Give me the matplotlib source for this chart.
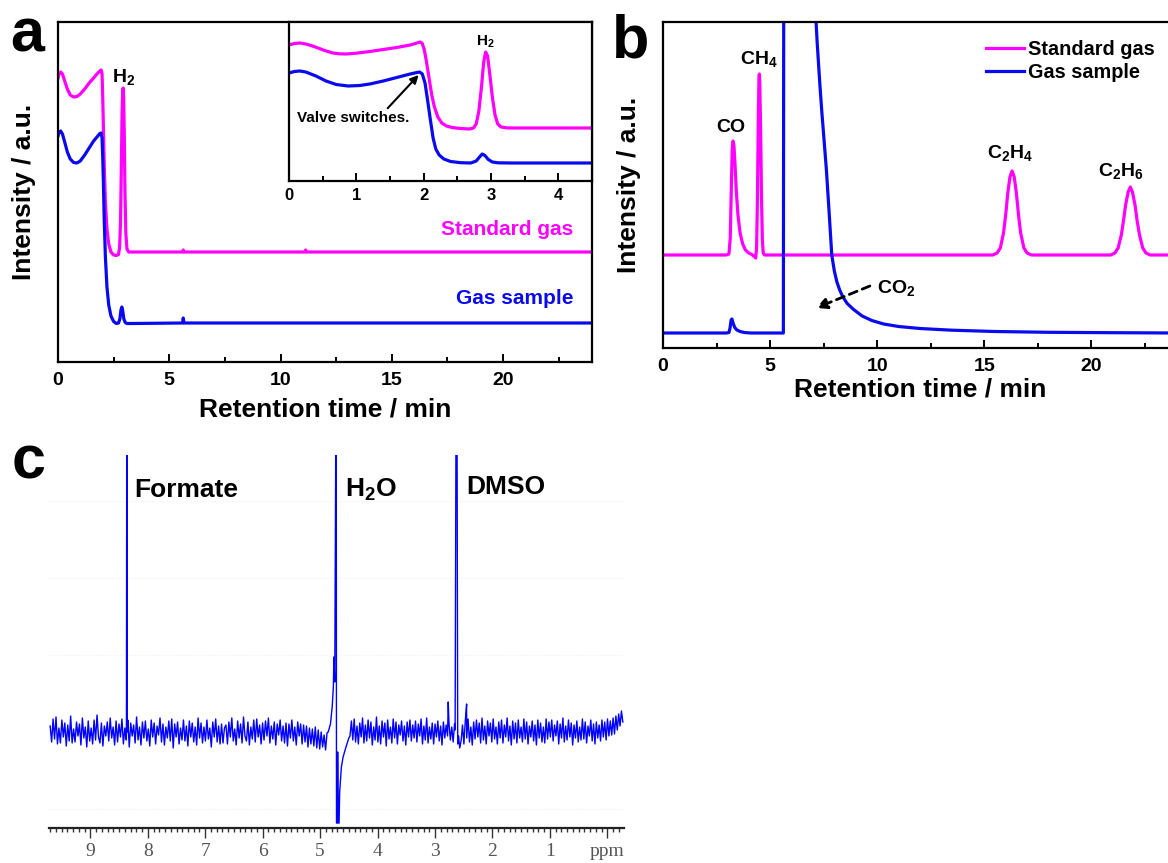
import numpy as np
import matplotlib
matplotlib.use('Agg')
import matplotlib.pyplot as plt
from matplotlib.ticker import MultipleLocator

plt.rcParams['font.family'] = ['Liberation Sans', 'DejaVu Sans']
plt.rcParams['font.weight'] = 'bold'
plt.rcParams['axes.labelweight'] = 'bold'
plt.rcParams['mathtext.fontset'] = 'custom'
plt.rcParams['mathtext.rm'] = 'Liberation Sans:bold'
plt.rcParams['mathtext.default'] = 'rm'

MAG = '#ff00ff'
BLU = '#0a0aee'

# ---- panel a, main (time in min, intensity a.u.)
a_std_t = [0, 0.05, 0.12, 0.2, 0.3, 0.42, 0.55, 0.7, 0.85, 1.0, 1.2, 1.4, 1.6, 1.75, 1.88, 1.94,
           1.98, 2.01, 2.04, 2.08, 2.13, 2.2, 2.28, 2.38, 2.5, 2.62, 2.72, 2.77, 2.81, 2.85, 2.88,
           2.91, 2.93, 2.95, 2.98, 3.01, 3.05, 3.1, 3.18, 3.3, 5.6, 5.63, 5.66, 11.1, 11.13, 11.16, 24]
a_std_y = [284, 288, 290, 288, 281, 273, 267, 265, 265.5, 268, 273, 279, 284, 288, 291, 292,
           288, 265, 235, 195, 160, 133, 118, 110, 107, 106.5, 107.5, 115, 140, 200, 250,
           272, 274, 265, 225, 170, 128, 113, 110, 110, 110, 112, 110, 110, 112, 110, 110]
a_gas_t = [0, 0.05, 0.12, 0.2, 0.3, 0.42, 0.55, 0.7, 0.85, 1.0, 1.2, 1.4, 1.6, 1.75, 1.88, 1.94,
           1.98, 2.01, 2.04, 2.08, 2.13, 2.2, 2.28, 2.38, 2.5, 2.62, 2.72, 2.78, 2.83, 2.87, 2.91,
           2.96, 3.02, 3.1, 3.3, 5.6, 5.63, 5.66, 24]
a_gas_y = [226, 230, 231, 228, 220, 210, 203, 199.5, 199, 201, 207, 214, 221, 225, 228.5, 229,
           224, 205, 180, 140, 105, 75, 57, 46, 40.5, 38.5, 39, 43, 52, 55, 51,
           43, 39.5, 38.5, 38.5, 39, 44, 39, 39]

# ---- panel a, inset
i_std_t = [0, 0.08, 0.16, 0.25, 0.35, 0.45, 0.55, 0.65, 0.75, 0.85, 1.0, 1.2, 1.4, 1.6, 1.8, 1.9,
           1.95, 1.98, 2.01, 2.04, 2.08, 2.12, 2.16, 2.21, 2.27, 2.34, 2.42, 2.55, 2.68, 2.74,
           2.78, 2.82, 2.86, 2.89, 2.92, 2.95, 2.98, 3.02, 3.06, 3.1, 3.15, 3.25, 4.5]
i_std_y = [136, 137.5, 138, 137, 135, 132.5, 130, 128, 127.2, 127, 127.8, 129.5, 131.5, 133.5,
           136, 138, 139, 137.5, 131, 120, 103, 86, 74, 64, 58, 55, 53.5, 52.5, 52, 53,
           57, 70, 95, 118, 129, 125, 108, 84, 66, 57, 54, 53, 53]
i_gas_t = [0, 0.08, 0.16, 0.25, 0.4, 0.55, 0.7, 0.88, 1.05, 1.2, 1.4, 1.6, 1.8, 1.9, 1.94, 1.98,
           2.02, 2.06, 2.1, 2.14, 2.18, 2.23, 2.3, 2.4, 2.55, 2.7, 2.78, 2.83, 2.87, 2.91, 2.96,
           3.02, 3.1, 3.3, 4.5]
i_gas_y = [108, 109.5, 110, 109, 105, 100, 96.5, 95, 95.5, 97, 100, 103.5, 107, 108.5, 109, 107,
           98, 80, 61, 43, 32, 26, 22, 19.5, 18.3, 18, 20, 24, 27, 25.5, 21.5,
           19, 18.2, 18, 18]

# ---- panel b
b_std_t = [0, 2.95, 3.08, 3.14, 3.19, 3.23, 3.27, 3.31, 3.36, 3.42, 3.5, 3.6, 3.72, 3.85, 4.0,
           4.15, 4.28, 4.33, 4.37, 4.41, 4.45, 4.48, 4.5, 4.52, 4.56, 4.6, 4.64, 4.68, 4.74,
           15.4, 15.6, 15.75, 15.9, 16.0, 16.1, 16.2, 16.3, 16.4, 16.5, 16.6, 16.7, 16.85, 17.0,
           17.2, 20.9, 21.1, 21.25, 21.4, 21.5, 21.6, 21.72, 21.82, 21.92, 22.04, 22.14, 22.25,
           22.4, 22.55, 22.75, 24]
b_std_y = [93, 93, 94, 110, 160, 198, 207, 203, 185, 158, 133, 115, 104, 98, 95,
           93.5, 91, 90, 100, 150, 230, 270, 274, 265, 215, 150, 108, 95, 93,
           93, 95, 100, 115, 133, 155, 171, 177, 171, 155, 133, 115, 100, 95,
           93, 93, 95, 100, 113, 127, 143, 156, 161, 156, 143, 127, 113,
           100, 95, 93, 93]
b_gas_t = [0, 2.95, 3.08, 3.13, 3.18, 3.22, 3.27, 3.35, 3.45, 3.6, 3.8, 4.1, 5.62, 5.64, 7.1,
           7.15, 7.2, 7.26, 7.33, 7.42, 7.52, 7.63, 7.75, 7.88, 8.0, 8.12, 8.25, 8.4, 8.6, 8.9,
           9.3, 9.75, 10.3, 11.0, 12.0, 13.5, 15.5, 18, 21, 24]
b_gas_y = [15, 15, 15.5, 20, 28, 29, 25, 20.5, 18, 16.5, 15.5, 15, 15, 400, 400,
           325, 305, 285, 262, 235, 208, 178, 138, 93, 77, 66, 58, 51, 44.5, 38.5,
           32, 27.5, 24, 21.5, 19.5, 17.8, 16.5, 15.7, 15.3, 15]

# ---- panel c, 1H NMR (ppm, intensity)
noise_left = [
    6, -10, 13, -7, 15, -12, 4, -11, 12, -5, 9, -14, 7, -9, 16, -11, 3, -10, 10, -4,
    8, -13, 14, -6, 5, -15, 11, -9, 4, -12, 12, -8, 17, -5, -11, 9, -14, 6, -4, 10,
    -9, 14, -6, 5, -13, 11, -10, 8, -5, 13, -12, 4, -8, 12, -15, 9, -4, 7, -11, 15,
    -8, 5, -13, 10, -6, 11, -9, 3, -14, 12, -5, 9, -12, 6, -3, 14, -10, 8, -13, 5,
    -6, 11, -9, 13, -16, 8, -5, 10, -12, 4, -8, 12, -9, 6, -14, 11, -5, 9, -10, 5,
    -13, 14, -6, 9, -11, 5, -9, 12, -7, 4, -15, 10, -5, 13, -10, 6, -12, 8, -11, 4,
    7, -12, 10, -5, 14, -9, 3, -13, 11, -6, 8, -11, 15, -4, -9, 10, -13, 5, -7, 12,
    -10, 13, -5, 7, -12, 9, -8, 11, -4, 14, -11, 6, -7, 10, -13, 8, -3, 12, -9, 6,
    -11, 9, -14, 8, -6, 12, -9, 5, -13, 10, -4, 8, -12, 7, -10, 6, -15, 4, -12, 3,
    -14, 5, -16, 2, -17, 0, -15, -3, -18, -1]
noise_mid = [
    -4, 11, -8, 13, -10, 6, -12, 9, -5, 14, -11, 7, -9, 12, -6, 10, -13, 5, -8, 15,
    -10, 6, -12, 11, -5, 9, -14, 12, -7, 5, -11, 13, -6, 10, -12, 7, -3, 11, -9, 6,
    -13, 10, -5, 12, -9, 7, -6, 11, -10, 8, -4, 13, -12, 6, -8, 14, -11, 5, -7, 9,
    -12, 8, -5, 11, -9, 6, -13, 10, -6, 7, -4, 9, -8, 5, -10, 8]
noise_right = [
    -16, -9, 7, -12, 11, -6, 13, -10, 5, -13, 10, -7, 12, -5, 9, -11, 14, -8, 6, -12,
    11, -4, 9, -10, 13, -7, 5, -12, 10, -6, 12, -11, 7, -5, 14, -9, 6, -13, 11, -7,
    9, -11, 12, -6, 5, -10, 13, -7, 10, -12, 6, -5, 11, -9, 7, -13, 12, -6, 9, -10,
    5, -11, 13, -7, 10, -5, 12, -9, 7, -4, 11, -12, 8, -6, 14, -10, 6, -8, 12, -5,
    9, -13, 7, -6, 11, -10, 5, -8, 13, -7, 10, -11, 6, -4, 12, -9, 8, -12, 10, -6,
    7, -9, 12, -5, 10, -8, 13, -4, 11, -3, 14, -2, 16, 2, 18, 6, 21, 10]
peak_ppm = [8.372, 8.365, 8.358,
            4.86, 4.82, 4.79, 4.77, 4.76, 4.745, 4.72, 4.715, 4.70, 4.695, 4.685, 4.67, 4.66,
            4.63, 4.60, 4.55, 4.50,
            2.77, 2.65, 2.63, 2.62, 2.605, 2.59, 2.45]
peak_int = [0, 400, 0,
            0, 8, 25, 45, 75, 50, 400, -91, -91, -20, -91, -91, -60,
            -35, -25, -15, -6,
            30, 2, 400, 400, -12, -4, 28]
ppm_ticks = [9, 8, 7, 6, 5, 4, 3, 2, 1, 0]
ppm_labels = ['9', '8', '7', '6', '5', '4', '3', '2', '1', 'ppm']

W, H = 1168, 863
fig = plt.figure(figsize=(W / 100, H / 100), dpi=100)


def rect(l, t, r, b):
    return [l / W, 1 - b / H, (r - l) / W, (b - t) / H]


def style_box(ax):
    for s in ax.spines.values():
        s.set_linewidth(1.6)
    ax.set_yticks([])
    ax.tick_params(axis='x', which='both', direction='in', width=1.4, labelsize=14, pad=7)
    ax.tick_params(axis='x', which='major', length=6)
    ax.tick_params(axis='x', which='minor', length=3.5)


# panel a
axa = fig.add_axes(rect(58, 22, 592, 362))
axa.plot(a_std_t, a_std_y, color=MAG, lw=2.3)
axa.plot(a_gas_t, a_gas_y, color=BLU, lw=2.3)
axa.set_xlim(0, 24)
axa.set_ylim(0, 340)
axa.xaxis.set_major_locator(MultipleLocator(5))
axa.xaxis.set_minor_locator(MultipleLocator(2.5))
style_box(axa)
axa.set_xlabel('Retention time / min', fontsize=19, labelpad=6)
axa.set_ylabel('Intensity / a.u.', fontsize=19, labelpad=16)
axa.text(2.96, 280, 'H$_2$', fontsize=14, ha='center', va='baseline')
axa.text(23.15, 127, 'Standard gas', fontsize=15, color=MAG, ha='right', va='baseline')
axa.text(23.15, 58, 'Gas sample', fontsize=15, color=BLU, ha='right', va='baseline')

# inset
axi = fig.add_axes(rect(289, 22, 592, 181))
axi.plot(i_std_t, i_std_y, color=MAG, lw=2.3)
axi.plot(i_gas_t, i_gas_y, color=BLU, lw=2.3)
axi.set_xlim(0, 4.5)
axi.set_ylim(0, 159)
axi.xaxis.set_major_locator(MultipleLocator(1))
axi.xaxis.set_minor_locator(MultipleLocator(0.5))
style_box(axi)
axi.tick_params(axis='x', labelsize=12, pad=5)
axi.text(2.92, 135, 'H$_2$', fontsize=11, ha='center', va='baseline')
axi.annotate('Valve switches.', xy=(1.925, 106), xytext=(0.96, 59), fontsize=11,
             ha='center', va='baseline',
             arrowprops=dict(arrowstyle='-|>', color='black', lw=1.5, mutation_scale=12,
                             shrinkA=0, shrinkB=0, relpos=(0.78, 1.0)))

# panel b
axb = fig.add_axes(rect(663, 22, 1177, 348))
axb.plot(b_std_t, b_std_y, color=MAG, lw=2.3, label='Standard gas')
axb.plot(b_gas_t, b_gas_y, color=BLU, lw=2.3, label='Gas sample')
axb.set_xlim(0, 24)
axb.set_ylim(0, 326)
axb.xaxis.set_major_locator(MultipleLocator(5))
axb.xaxis.set_minor_locator(MultipleLocator(2.5))
style_box(axb)
axb.spines['right'].set_visible(False)
axb.set_xlabel('Retention time / min', fontsize=19, labelpad=2)
axb.set_ylabel('Intensity / a.u.', fontsize=19, labelpad=16)
axb.legend(loc='upper left', bbox_to_anchor=(0.628, 0.945), frameon=False, fontsize=14.3,
           handlelength=1.9, handletextpad=0.2, borderpad=0, borderaxespad=0,
           labelspacing=0.2)
axb.text(3.17, 216, 'CO', fontsize=14, ha='center', va='baseline')
axb.text(4.49, 284, 'CH$_4$', fontsize=14, ha='center', va='baseline')
axb.text(16.2, 190, 'C$_2$H$_4$', fontsize=14, ha='center', va='baseline')
axb.text(21.4, 172, 'C$_2$H$_6$', fontsize=14, ha='center', va='baseline')
axb.text(10.0, 55, 'CO$_2$', fontsize=14, ha='left', va='baseline')
axb.annotate('', xy=(7.15, 40), xytext=(9.66, 62),
             arrowprops=dict(arrowstyle='-|>', color='black', lw=2, ls=(0, (3, 2)),
                             mutation_scale=16, shrinkA=0, shrinkB=0))

# panel c
ppm = np.concatenate([np.linspace(9.70, 4.88, len(noise_left)),
                      np.linspace(4.48, 2.66, len(noise_mid)),
                      np.linspace(2.57, -0.27, len(noise_right)),
                      peak_ppm])
inten = np.concatenate([noise_left, noise_mid, noise_right, peak_int]).astype(float)
order = np.argsort(-ppm, kind='stable')

axc = fig.add_axes(rect(49, 455, 624, 828))
axc.plot(ppm[order], inten[order], color='#0000ff', lw=1.0)
axc.set_xlim(9.72, -0.29)
axc.set_ylim(-96, 277)
for s in ['top', 'right', 'left']:
    axc.spines[s].set_visible(False)
axc.spines['bottom'].set_linewidth(1.6)
axc.spines['bottom'].set_color('#222222')
axc.set_yticks([-77, 0, 77, 154, 231])
axc.tick_params(axis='y', left=False, labelleft=False)
axc.grid(axis='y', color='#f1f1f1', lw=0.8, ls=':')
axc.set_xticks(ppm_ticks)
axc.set_xticklabels(ppm_labels, fontfamily='Liberation Serif', fontweight='normal',
                    fontsize=14, color='#555555')
axc.xaxis.set_minor_locator(MultipleLocator(0.1))
axc.tick_params(axis='x', which='both', direction='out', color='#333333', width=1.0, pad=3)
axc.tick_params(axis='x', which='major', length=7.5)
axc.tick_params(axis='x', which='minor', length=3)
axc.text(8.23, 235, 'Formate', fontsize=19, ha='left', va='baseline')
axc.text(4.57, 235, 'H$_2$O', fontsize=19, ha='left', va='baseline')
axc.text(2.46, 238, 'DMSO', fontsize=19, ha='left', va='baseline')

# panel letters
fig.text(10 / W, 1 - 52 / H, 'a', fontsize=44, ha='left', va='baseline')
fig.text(612 / W, 1 - 57 / H, 'b', fontsize=44, ha='left', va='baseline')
fig.text(12 / W, 1 - 478 / H, 'c', fontsize=44, ha='left', va='baseline')

fig.savefig('out.png', dpi=100)
